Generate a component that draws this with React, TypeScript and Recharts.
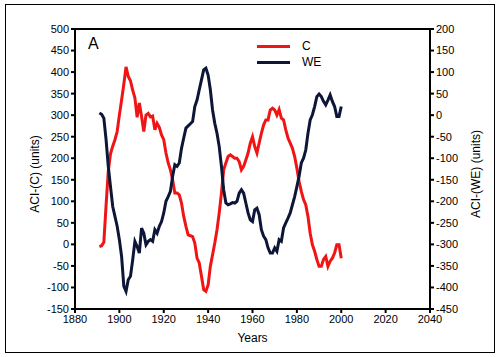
import React from "react";
import {
  Label,
  Line,
  LineChart,
  ReferenceLine,
  XAxis,
  YAxis,
} from "recharts";

const C = {
  red: "#f01414",
  navy: "#0e1638",
  ink: "#000000",
};

const FONT = "'Liberation Sans', Arial, sans-serif";

const years = [
  1891, 1892, 1893, 1894, 1895, 1896, 1897, 1898, 1899, 1900,
  1901, 1902, 1903, 1904, 1905, 1906, 1907, 1908, 1909, 1910,
  1911, 1912, 1913, 1914, 1915, 1916, 1917, 1918, 1919, 1920,
  1921, 1922, 1923, 1924, 1925, 1926, 1927, 1928, 1929, 1930,
  1931, 1932, 1933, 1934, 1935, 1936, 1937, 1938, 1939, 1940,
  1941, 1942, 1943, 1944, 1945, 1946, 1947, 1948, 1949, 1950,
  1951, 1952, 1953, 1954, 1955, 1956, 1957, 1958, 1959, 1960,
  1961, 1962, 1963, 1964, 1965, 1966, 1967, 1968, 1969, 1970,
  1971, 1972, 1973, 1974, 1975, 1976, 1977, 1978, 1979, 1980,
  1981, 1982, 1983, 1984, 1985, 1986, 1987, 1988, 1989, 1990,
  1991, 1992, 1993, 1994, 1995, 1996, 1997, 1998, 1999, 2000,
];

// ACI-(C), left axis
const cValues = [
  -5, -3, 5, 90, 170, 210, 228, 243, 262, 300,
  335, 372, 412, 390, 380, 358, 340, 295, 328, 297,
  262, 300, 304, 296, 298, 266, 281, 272, 254, 243,
  212, 189, 173, 150, 119, 119, 115, 96, 65, 42,
  22, 20, 18, 3, -32, -43, -74, -105, -109, -94,
  -51, -24, 3, 34, 73, 119, 173, 189, 204, 208,
  204, 200, 200, 192, 173, 181, 196, 212, 235, 250,
  227, 212, 235, 258, 277, 289, 289, 312, 316, 312,
  300, 313, 293, 289, 266, 247, 235, 223, 204, 177,
  146, 123, 104, 92, 65, 26, -1, -16, -35, -51,
  -51, -35, -28, -51, -39, -32, -20, -1, -1, -32,
];

// ACI-(WE), right axis
const weValues = [
  5, 2, -7, -57, -119, -166, -212, -235, -258, -289,
  -328, -397, -409, -382, -374, -336, -293, -305, -320, -262,
  -274, -301, -293, -289, -293, -266, -274, -258, -247, -227,
  -200, -189, -177, -142, -115, -119, -111, -77, -53, -30,
  -25, -20, -15, 20, 35, 59, 82, 105, 109, 93,
  59, 12, -19, -42, -73, -119, -173, -204, -208, -206,
  -203, -204, -200, -181, -173, -181, -204, -227, -243, -247,
  -220, -216, -231, -266, -281, -289, -308, -320, -320, -308,
  -316, -289, -293, -262, -250, -239, -227, -208, -189, -166,
  -142, -111, -100, -81, -42, -11, 1, 20, 43, 49,
  43, 32, 24, 35, 47, 32, 20, -3, -3, 20,
];

const xTicks = [1880, 1900, 1920, 1940, 1960, 1980, 2000, 2020, 2040];
const leftTicks = [-150, -100, -50, 0, 50, 100, 150, 200, 250, 300, 350, 400, 450, 500];
const rightTicks = [-450, -400, -350, -300, -250, -200, -150, -100, -50, 0, 50, 100, 150, 200];

const legendItems = [
  { label: "C", color: C.red },
  { label: "WE", color: C.navy },
];

const rows = years.map((year, i) => ({ year, c: cValues[i], we: weValues[i] }));

const tickStyle = { fontSize: 11, fill: C.ink, fontFamily: FONT };

function SideLabel({ viewBox, value, cx }: any) {
  const cy = viewBox.y + viewBox.height / 2 + 5;
  return (
    <text
      x={cx}
      y={cy}
      transform={`rotate(-90, ${cx}, ${cy})`}
      textAnchor="middle"
      dominantBaseline="central"
      fontSize={12}
      fontFamily={FONT}
      fill={C.ink}
    >
      {value}
    </text>
  );
}

function LegendBox() {
  return (
    <div style={{ position: "absolute", left: 257, top: 38, fontFamily: FONT, fontSize: 12, color: C.ink }}>
      {legendItems.map((it) => (
        <div key={it.label} style={{ display: "flex", alignItems: "center", height: 16 }}>
          <span style={{ display: "inline-block", width: 33, height: 3, background: it.color, marginRight: 12 }} />
          <span>{it.label}</span>
        </div>
      ))}
    </div>
  );
}

export default function App() {
  return (
    <div style={{ position: "absolute", left: 0, top: 0, width: 500, height: 357, background: "#fff" }}>
      <div
        style={{
          position: "absolute",
          left: 5,
          top: 4,
          width: 488,
          height: 347,
          border: "1px solid #000",
        }}
      />
      <div style={{ position: "absolute", left: 0, top: 0 }}>
        <LineChart width={500} height={357} data={rows} margin={{ top: 29, right: 30, bottom: 18, left: 35 }}>
          <XAxis
            dataKey="year"
            type="number"
            domain={[1880, 2040]}
            ticks={xTicks}
            interval={0}
            tick={tickStyle}
            tickSize={4}
            tickMargin={2}
            height={30}
            stroke={C.ink}
            strokeWidth={2}
          >
            <Label value="Years" position="insideBottom" offset={-3} style={{ fontSize: 12, fontFamily: FONT, fill: C.ink }} />
          </XAxis>
          <YAxis
            yAxisId="left"
            domain={[-150, 500]}
            ticks={leftTicks}
            interval={0}
            tick={tickStyle}
            tickSize={4}
            tickMargin={2}
            width={40}
            stroke={C.ink}
            strokeWidth={2}
          >
            <Label value="ACI-(C) (units)" content={(p: any) => <SideLabel {...p} cx={35} />} />
          </YAxis>
          <YAxis
            yAxisId="right"
            orientation="right"
            domain={[-450, 200]}
            ticks={rightTicks}
            interval={0}
            tick={tickStyle}
            tickSize={4}
            tickMargin={2}
            width={40}
            stroke={C.ink}
            strokeWidth={2}
          >
            <Label value="ACI-(WE) (units)" content={(p: any) => <SideLabel {...p} cx={476} />} />
          </YAxis>
          <ReferenceLine yAxisId="left" y={500} stroke={C.ink} strokeWidth={2} />
          <Line
            yAxisId="left"
            dataKey="c"
            name="C"
            type="linear"
            stroke={C.red}
            strokeWidth={3}
            dot={false}
            isAnimationActive={false}
          />
          <Line
            yAxisId="right"
            dataKey="we"
            name="WE"
            type="linear"
            stroke={C.navy}
            strokeWidth={3}
            dot={false}
            isAnimationActive={false}
          />
        </LineChart>
      </div>
      <LegendBox />
      <div
        style={{
          position: "absolute",
          left: 88,
          top: 35,
          fontFamily: FONT,
          fontSize: 16,
          color: C.ink,
        }}
      >
        A
      </div>
    </div>
  );
}
